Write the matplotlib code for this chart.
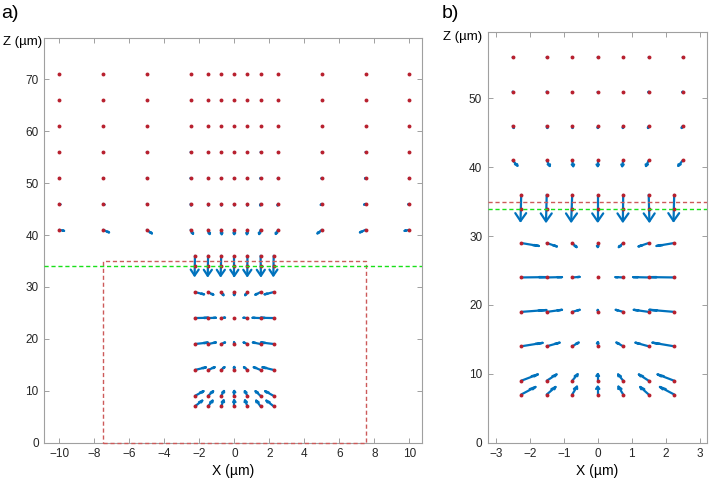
import numpy as np
import matplotlib
matplotlib.use('Agg')
import matplotlib.pyplot as plt
from matplotlib.collections import LineCollection
from matplotlib.patches import Rectangle

plt.rcParams['font.family'] = ['Liberation Sans', 'DejaVu Sans']

# grid positions (um)
x_upper = [-10, -7.5, -5, -2.5, -1.5, -0.75, 0, 0.75, 1.5, 2.5, 5, 7.5, 10]
z_upper = [71, 66, 61, 56, 51, 46, 41]
x_lower = [-2.25, -1.5, -0.75, 0, 0.75, 1.5, 2.25]
z_lower = [36, 29, 24, 19, 14, 9, 7]
z_mid = 34  # dots only

# displacement vectors (rows follow z_upper / z_lower)
u_upper = [
    [0] * 13,
    [0] * 13,
    [0] * 13,
    [0] * 13,
    [0.02, 0.03, 0.02, 0.01, 0.01, 0, 0, 0, -0.01, -0.01, -0.02, -0.03, -0.02],
    [0.06, 0.08, 0.06, 0.03, 0.02, 0.01, 0, -0.01, -0.02, -0.03, -0.06, -0.08, -0.06],
    [0.27, 0.34, 0.29, 0.14, 0.09, 0.03, 0, -0.03, -0.08, -0.13, -0.25, -0.32, -0.27],
]
v_upper = [
    [0] * 13,
    [0] * 13,
    [0] * 13,
    [-0.05] * 13,
    [-0.12] * 13,
    [-0.1, -0.15, -0.2, -0.3, -0.3, -0.3, -0.3, -0.3, -0.3, -0.3, -0.2, -0.15, -0.1],
    [-0.2, -0.5, -0.7, -0.78, -0.82, -0.85, -0.85, -0.85, -0.82, -0.8, -0.7, -0.5, -0.2],
]
u_lower = [
    [-0.02, -0.02, -0.03, 0, -0.01, 0.02, -0.02],
    [0.52, 0.3, 0.13, 0, -0.13, -0.3, -0.52],
    [0.76, 0.45, 0.22, 0, -0.23, -0.46, -0.75],
    [0.74, 0.45, 0.22, 0, -0.22, -0.44, -0.73],
    [0.63, 0.38, 0.19, 0, -0.2, -0.39, -0.64],
    [0.49, 0.29, 0.16, 0, -0.15, -0.29, -0.49],
    [0.42, 0.26, 0.14, 0, -0.14, -0.25, -0.42],
]
v_lower = [
    [-3.8, -3.85, -3.85, -3.85, -3.85, -3.85, -3.8],
    [-0.43, -0.5, -0.6, -0.6, -0.6, -0.5, -0.43],
    [0.05, 0.05, 0.08, 0, 0.05, 0.05, 0.05],
    [0.27, 0.3, 0.3, 0.3, 0.3, 0.3, 0.3],
    [0.5, 0.53, 0.55, 0.6, 0.55, 0.53, 0.53],
    [0.92, 0.92, 0.95, 0.97, 0.92, 0.92, 0.92],
    [1.1, 1.1, 1.15, 1.15, 1.15, 1.1, 1.1],
]

blue = '#0072BD'
red = '#B8202E'
red_dash = '#CC5A5A'
green = '#19E019'
grey = '#A0A0A0'

Xu, Zu = np.meshgrid(x_upper, z_upper)
Xl, Zl = np.meshgrid(x_lower, z_lower)
X = np.concatenate([Xu.ravel(), Xl.ravel()])
Z = np.concatenate([Zu.ravel(), Zl.ravel()])
U = np.concatenate([np.ravel(u_upper), np.ravel(u_lower)])
V = np.concatenate([np.ravel(v_upper), np.ravel(v_lower)])


def quiv(ax, hb):
    segs = []
    for x, z, u, v in zip(X, Z, U, V):
        if u == 0 and v == 0:
            continue
        tx, tz = x + u, z + v
        segs.append([(x, z), (tx, tz)])
        bx, bz = tx - 0.3 * u, tz - 0.3 * v
        segs.append([(bx - hb * v, bz + hb * u), (tx, tz), (bx + hb * v, bz - hb * u)])
    ax.add_collection(LineCollection(segs, colors=blue, linewidths=1.6,
                                     capstyle='round', joinstyle='round', zorder=2))
    ax.plot(X, Z, 'o', ms=2.8, color=red, mec='none', zorder=3)
    ax.plot(x_lower, [z_mid] * len(x_lower), 'o', ms=2.8, color=red, mec='none', zorder=3)


def style(ax):
    for s in ax.spines.values():
        s.set_color(grey)
        s.set_linewidth(0.8)
    ax.tick_params(direction='in', length=3.5, width=0.7, color=grey,
                   labelcolor='#262626', labelsize=8.5, top=True, right=True, pad=4)


fig = plt.figure(figsize=(7.09, 4.83), dpi=100)

ax1 = fig.add_axes([0.0625, 0.0836, 0.5323, 0.8371])
quiv(ax1, 0.06)
ax1.add_patch(Rectangle((-7.5, 0), 15, 35, fill=False, ls=(0, (3, 2)), lw=1.0,
                        ec=red_dash, zorder=4, clip_on=False))
ax1.axhline(34, color=green, ls=(0, (3, 2)), lw=1.0, zorder=4)
ax1.set_xlim(-10.86, 10.71)
ax1.set_ylim(0, 77.9)
ax1.set_xticks(np.arange(-10, 11, 2))
ax1.set_yticks(np.arange(0, 71, 10))
style(ax1)
ax1.set_xlabel('X (µm)', fontsize=10, labelpad=3)
ax1.text(-0.006, 0.99, 'Z (µm)', transform=ax1.transAxes, ha='right', va='center', fontsize=9.5)

ax2 = fig.add_axes([0.6879, 0.0834, 0.3093, 0.8497])
quiv(ax2, 0.042)
ax2.axhline(35, color=red_dash, ls=(0, (3, 2)), lw=1.0, zorder=4)
ax2.axhline(34, color=green, ls=(0, (3, 2)), lw=1.0, zorder=4)
ax2.set_xlim(-3.235, 3.215)
ax2.set_ylim(0, 59.6)
ax2.set_xticks(np.arange(-3, 4, 1))
ax2.set_yticks(np.arange(0, 51, 10))
style(ax2)
ax2.set_xlabel('X (µm)', fontsize=10, labelpad=3)
ax2.text(-0.026, 0.989, 'Z (µm)', transform=ax2.transAxes, ha='right', va='center', fontsize=9.5)

fig.text(1 / 709, 1 - 13 / 483, 'a)', fontsize=14, ha='left', va='center')
fig.text(442 / 709, 1 - 13 / 483, 'b)', fontsize=14, ha='left', va='center')

fig.savefig('out.png', dpi=100)
